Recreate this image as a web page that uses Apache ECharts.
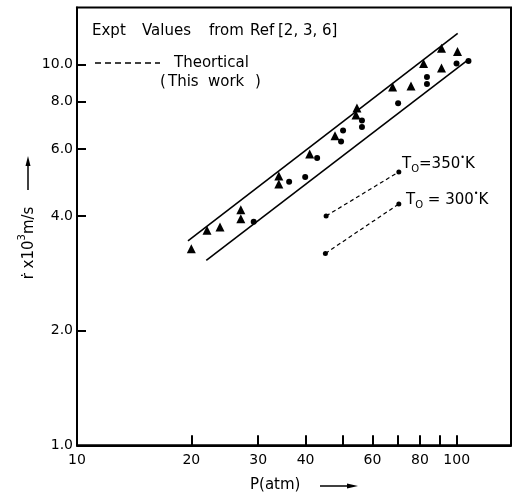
<!DOCTYPE html>
<html><head><meta charset="utf-8">
<script src="https://cdn.jsdelivr.net/npm/echarts@6/dist/echarts.min.js"></script>
<style>html,body{margin:0;padding:0;background:#fff}#c{width:512px;height:494px}</style>
</head><body><div id="c"></div>
<script>
// ---- axis ticks / labels ----
const xTickValues = [20, 30, 40, 50, 60, 70, 80, 90, 100];
const xLabelValues = [10, 20, 30, 40, 60, 80, 100];
const xLabelTexts = ['10', '20', '30', '40', '60', '80', '100'];
const yTickValues = [2, 4, 6, 8, 10];
const yLabelValues = [1, 2, 4, 6, 8, 10];
const yLabelTexts = ['1.0', '2.0', '4.0', '6.0', '8.0', '10.0'];

// ---- experimental values (Ref [2,3,6]) ----
const triP = [20.0, 22.0, 23.8, 27.0, 27.0, 34.0, 34.0, 41.0, 47.8, 54.6, 54.3, 67.8, 75.8, 81.8, 91.2, 91.2, 100.5];
const triR = [3.28, 3.67, 3.74, 4.15, 3.93, 5.09, 4.85, 5.82, 6.49, 7.68, 7.36, 8.72, 8.77, 10.05, 9.78, 11.03, 10.8];
const dotP = [29.2, 36.2, 39.9, 42.9, 50.2, 49.6, 56.3, 56.3, 70.1, 83.5, 83.5, 99.9, 107.4];
const dotR = [3.86, 4.92, 5.06, 5.68, 6.70, 6.27, 7.12, 6.85, 7.91, 9.26, 8.88, 10.05, 10.2];

// ---- bounding lines ----
const upperP = [19.6, 100.6];
const upperR = [3.44, 12.06];
const lowerP = [21.9, 106.9];
const lowerR = [3.06, 10.26];

// ---- theoretical (this work) ----
const t350P = [45.3, 70.4];
const t350R = [4.0, 5.22];
const t300P = [45.1, 70.4];
const t300R = [3.19, 4.30];

const FONT = 'DejaVu Sans';
const pairs = (a, b) => a.map((v, i) => [v, b[i]]);
const findLabel = (vals, texts, v) => {
  const i = vals.findIndex(u => Math.abs(u - v) < 1e-6 * u);
  return i >= 0 ? texts[i] : '';
};
const txt = (s, x, y) => ({ type: 'text', style: { text: s, x: x, y: y, font: '15px ' + FONT,
  fill: '#000', align: 'left', verticalAlign: 'middle' } });

const chart = echarts.init(document.getElementById('c'));
const option = {
  animation: false,
  backgroundColor: '#fff',
  grid: { left: 77, right: 1, top: 7.5, bottom: 48.7, show: true, borderColor: '#000', borderWidth: 2 },
  xAxis: {
    type: 'log', logBase: 10, min: 10, max: 139,
    axisLine: { lineStyle: { color: '#000', width: 2 } },
    axisTick: { inside: true, length: 10, lineStyle: { color: '#000', width: 2 }, customValues: xTickValues },
    axisLabel: { customValues: xLabelValues, formatter: v => findLabel(xLabelValues, xLabelTexts, v),
      color: '#000', fontFamily: FONT, fontSize: 14, margin: 8 },
    splitLine: { show: false }, minorTick: { show: false }
  },
  yAxis: {
    type: 'log', logBase: 10, min: 1, max: 14.1,
    axisLine: { lineStyle: { color: '#000', width: 2 } },
    axisTick: { inside: true, length: 9, lineStyle: { color: '#000', width: 2 }, customValues: yTickValues },
    axisLabel: { customValues: yLabelValues, formatter: v => findLabel(yLabelValues, yLabelTexts, v),
      color: '#000', fontFamily: FONT, fontSize: 14, margin: 4 },
    splitLine: { show: false }, minorTick: { show: false }
  },
  series: [
    { type: 'line', data: pairs(upperP, upperR), symbol: 'none', silent: true,
      lineStyle: { color: '#000', width: 1.6 } },
    { type: 'line', data: pairs(lowerP, lowerR), symbol: 'none', silent: true,
      lineStyle: { color: '#000', width: 1.6 } },
    { type: 'line', data: pairs(t350P, t350R), symbol: 'circle', symbolSize: 5, silent: true,
      itemStyle: { color: '#000', opacity: 1 }, lineStyle: { color: '#000', width: 1.2, type: [4, 3] } },
    { type: 'line', data: pairs(t300P, t300R), symbol: 'circle', symbolSize: 5, silent: true,
      itemStyle: { color: '#000', opacity: 1 }, lineStyle: { color: '#000', width: 1.2, type: [4, 3] } },
    { type: 'scatter', data: pairs(triP, triR), symbol: 'triangle', symbolSize: 9,
      itemStyle: { color: '#000', opacity: 1 } },
    { type: 'scatter', data: pairs(dotP, dotR), symbol: 'circle', symbolSize: 6,
      itemStyle: { color: '#000', opacity: 1 } }
  ],
  graphic: [
    txt('Expt', 92, 31), txt('Values', 142, 31), txt('from', 209, 31), txt('Ref', 250, 31), txt('[2, 3, 6]', 278, 31),
    { type: 'line', shape: { x1: 95, y1: 63, x2: 160, y2: 63 },
      style: { stroke: '#000', lineWidth: 1.5, lineDash: [6, 4] } },
    txt('Theortical', 174, 63),
    txt('(', 160, 82), txt('This', 168, 82), txt('work', 208, 82), txt(')', 255, 82),
    { type: 'text', style: { text: '{m|T}{s|O}{m|=350}{p|•}{m|K}', x: 402, y: 164, fill: '#000',
      align: 'left', verticalAlign: 'middle',
      rich: { m: { fontFamily: FONT, fontSize: 15, lineHeight: 20, verticalAlign: 'middle' },
              s: { fontFamily: FONT, fontSize: 10, lineHeight: 20, verticalAlign: 'bottom' },
              p: { fontFamily: FONT, fontSize: 8, lineHeight: 20, verticalAlign: 'top' } } } },
    { type: 'text', style: { text: '{m|T}{s|O}{m| = 300}{p|•}{m|K}', x: 406, y: 200, fill: '#000',
      align: 'left', verticalAlign: 'middle',
      rich: { m: { fontFamily: FONT, fontSize: 15, lineHeight: 20, verticalAlign: 'middle' },
              s: { fontFamily: FONT, fontSize: 10, lineHeight: 20, verticalAlign: 'bottom' },
              p: { fontFamily: FONT, fontSize: 8, lineHeight: 20, verticalAlign: 'top' } } } },
    // y axis name (rotated)
    { type: 'text', x: 27, y: 243, rotation: Math.PI / 2,
      style: { text: '{m|ṙ x10}{s|3}{m|m/s}', fill: '#000', align: 'center', verticalAlign: 'middle',
        rich: { m: { fontFamily: FONT, fontSize: 15, lineHeight: 20, verticalAlign: 'bottom' },
                s: { fontFamily: FONT, fontSize: 10, lineHeight: 20, verticalAlign: 'top' } } } },
    { type: 'line', shape: { x1: 28, y1: 190, x2: 28, y2: 160 }, style: { stroke: '#000', lineWidth: 1.5 } },
    { type: 'polygon', shape: { points: [[28, 156], [25.5, 166], [30.5, 166]] }, style: { fill: '#000' } },
    // x axis name
    txt('P(atm)', 250, 485),
    { type: 'line', shape: { x1: 320, y1: 486, x2: 350, y2: 486 }, style: { stroke: '#000', lineWidth: 1.5 } },
    { type: 'polygon', shape: { points: [[358, 486], [347, 483.5], [347, 488.5]] }, style: { fill: '#000' } }
  ]
};
chart.setOption(option);
</script>
</body></html>
